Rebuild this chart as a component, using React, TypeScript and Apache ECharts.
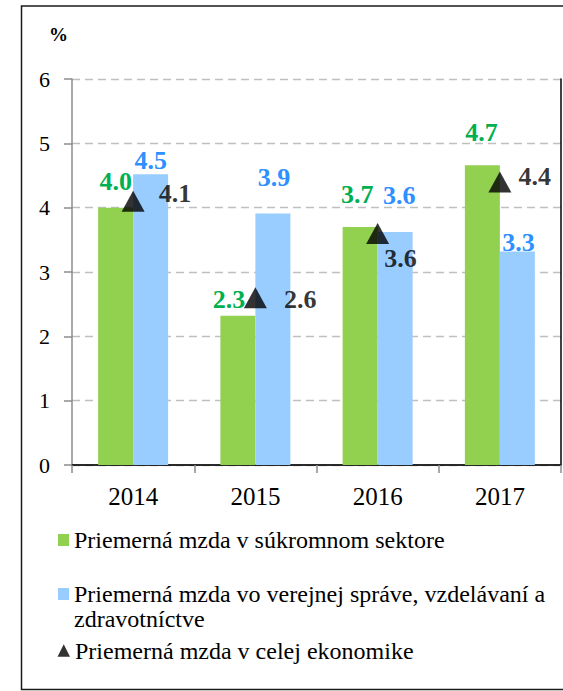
import React, { useEffect, useRef } from 'react';
import * as echarts from 'echarts';

const categories = ['2014', '2015', '2016', '2017'];
const privateSector = [4.0, 2.32, 3.7, 4.66];
const publicSector = [4.52, 3.91, 3.62, 3.32];
const wholeEconomy = [4.1, 2.6, 3.6, 4.4];
const seriesNames = [
  'Priemerná mzda v súkromnom sektore',
  'Priemerná mzda vo verejnej správe, vzdelávaní a zdravotníctve',
  'Priemerná mzda v celej ekonomike',
];

// label placement tweaks (pixels)
const greenLabelOffsets = [[0, -8], [-9, 2], [-3, -14], [-1, -15]];
const blueLabelOffsets = [[0, 4], [1, -18], [4, -19], [1, 9]];
const blackLabelOffsets = [[9, -8], [12, 2], [-10, 25], [2, -5]];

const font = 'Liberation Serif';

export default function App() {
  const ref = useRef<HTMLDivElement>(null);
  useEffect(() => {
    if (!ref.current) return;
    const chart = echarts.init(ref.current, undefined, { renderer: 'svg' });
    const fmt = (p: any) => Number(p.value).toFixed(1);
    const axisGray = { color: '#8c8c8c', width: 1.5 };
    const legendText = { fontSize: 24, color: '#000', fontFamily: font, lineHeight: 26 };
    chart.setOption({
      animation: false,
      textStyle: { fontFamily: font },
      grid: { left: 72, top: 79, right: 2, bottom: 226, containLabel: false },
      xAxis: [
        {
          type: 'category',
          data: categories,
          axisLine: { lineStyle: axisGray },
          axisTick: { show: true, length: 8, lineStyle: axisGray },
          axisLabel: { color: '#000', fontSize: 25, margin: 19, fontFamily: font },
          splitLine: { show: false },
        },
        {
          type: 'category',
          data: categories,
          position: 'top',
          axisLine: { lineStyle: { color: '#000', width: 1.5 } },
          axisTick: { show: false },
          axisLabel: { show: false },
        },
      ],
      yAxis: [
        {
          type: 'value',
          min: 0,
          max: 6,
          interval: 1,
          name: '%',
          nameLocation: 'end',
          nameGap: 45,
          nameTextStyle: {
            fontSize: 19,
            fontWeight: 'bold',
            color: '#000',
            fontFamily: font,
            align: 'right',
            verticalAlign: 'middle',
            padding: [0, 4, 0, 0],
          },
          axisLine: { show: true, lineStyle: axisGray },
          axisTick: { show: true, length: 8, lineStyle: axisGray },
          axisLabel: { color: '#000', fontSize: 22, margin: 22, fontFamily: font },
          splitLine: { show: true, lineStyle: { color: '#bfbfbf', type: [8, 5], width: 1.3 } },
        },
        {
          type: 'value',
          min: 0,
          max: 6,
          interval: 1,
          position: 'right',
          axisLine: { show: true, lineStyle: { color: '#000', width: 1.5 } },
          axisTick: { show: false },
          axisLabel: { show: false },
          splitLine: { show: false },
        },
      ],
      legend: [
        {
          data: [seriesNames[0]],
          left: 58,
          top: 527,
          padding: 0,
          icon: 'rect',
          itemWidth: 11,
          itemHeight: 12,
          selectedMode: false,
          textStyle: legendText,
        },
        {
          data: [seriesNames[1]],
          left: 58,
          top: 556.5,
          padding: 0,
          icon: 'rect',
          itemWidth: 11,
          itemHeight: 12,
          selectedMode: false,
          formatter: (n: string) => '\n' + n.replace(' zdravotníctve', '\nzdravotníctve'),
          textStyle: { ...legendText, lineHeight: 25 },
        },
        {
          data: [seriesNames[2]],
          left: 57.5,
          top: 637.5,
          padding: 0,
          icon: 'triangle',
          itemWidth: 12.5,
          itemHeight: 12.5,
          selectedMode: false,
          textStyle: legendText,
        },
      ],
      graphic: [
        {
          type: 'rect',
          silent: true,
          shape: { x: 21.5, y: 6, width: 545, height: 683.5 },
          style: { fill: 'none', stroke: '#1a1a1a', lineWidth: 1.5 },
        },
      ],
      series: [
        {
          type: 'bar',
          name: seriesNames[0],
          data: privateSector.map((v, i) => ({ value: v, label: { offset: greenLabelOffsets[i] } })),
          barWidth: 35,
          barGap: '0%',
          itemStyle: { color: '#92D050' },
          label: {
            show: true,
            position: 'top',
            distance: 5,
            formatter: fmt,
            color: '#00B050',
            fontSize: 26,
            fontWeight: 'bold',
            fontFamily: font,
          },
        },
        {
          type: 'bar',
          name: seriesNames[1],
          data: publicSector.map((v, i) => ({ value: v, label: { offset: blueLabelOffsets[i] } })),
          barWidth: 35,
          barGap: '0%',
          itemStyle: { color: '#99CCFF' },
          label: {
            show: true,
            position: 'top',
            distance: 5,
            formatter: fmt,
            color: '#2E8FFF',
            fontSize: 26,
            fontWeight: 'bold',
            fontFamily: font,
          },
        },
        {
          type: 'scatter',
          name: seriesNames[2],
          data: wholeEconomy.map((v, i) => ({ value: v, label: { offset: blackLabelOffsets[i] } })),
          symbol: 'triangle',
          symbolSize: [23, 21],
          itemStyle: { color: '#000' },
          z: 5,
          label: {
            show: true,
            position: 'right',
            distance: 5,
            formatter: fmt,
            color: '#000',
            fontSize: 26,
            fontWeight: 'bold',
            fontFamily: font,
          },
        },
      ],
    });
    return () => chart.dispose();
  }, []);
  return (
    <div
      ref={ref}
      style={{ position: 'absolute', left: 0, top: 0, width: 563, height: 691, background: '#fff' }}
    />
  );
}
